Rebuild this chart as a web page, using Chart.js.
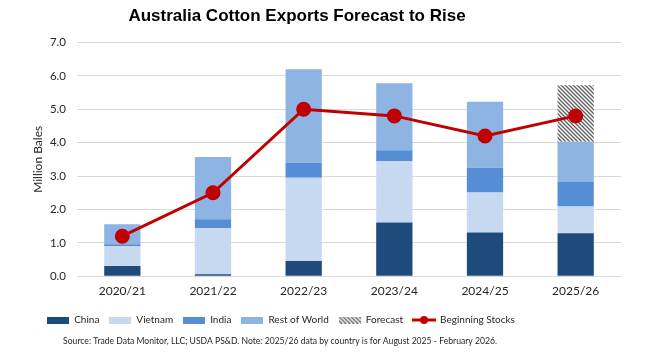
<!DOCTYPE html>
<html>
<head>
<meta charset="utf-8">
<script src="https://cdn.jsdelivr.net/npm/chart.js@4.4.1/dist/chart.umd.min.js"></script>
<style>
  html, body { margin: 0; padding: 0; background: #fff; }
</style>
</head>
<body>
<canvas id="cottonChart" width="660" height="360"></canvas>
<script>
const seasons = ['2020/21', '2021/22', '2022/23', '2023/24', '2024/25', '2025/26'];
const china = [0.31, 0.06, 0.46, 1.61, 1.31, 1.29];
const vietnam = [0.60, 1.38, 2.49, 1.84, 1.20, 0.80];
const india = [0.05, 0.27, 0.45, 0.32, 0.74, 0.75];
const restOfWorld = [0.60, 1.86, 2.80, 2.01, 1.97, 1.19];
const forecast = [null, null, null, null, null, 1.69];
const beginningStocks = [1.2, 2.5, 5.0, 4.8, 4.2, 4.8];

const TITLE = 'Australia Cotton Exports Forecast to Rise';
const SOURCE = 'Source: Trade Data Monitor, LLC; USDA PS&D. Note: 2025/26 data by country is for August 2025 - February 2026.';

const colors = {
    china: '#1F4A7C',
    vietnam: '#C6D9F1',
    india: '#558ED5',
    row: '#8EB4E3',
    stocks: '#C00000'
};

function hatchPattern() {
    const c = document.createElement('canvas');
    c.width = c.height = 4;
    const g = c.getContext('2d');
    g.fillStyle = '#fff';
    g.fillRect(0, 0, 4, 4);
    g.strokeStyle = '#5e5e5e';
    g.lineWidth = 1.3;
    g.beginPath();
    g.moveTo(-1, -1); g.lineTo(5, 5);
    g.moveTo(-1, 3); g.lineTo(1, 5);
    g.moveTo(3, -1); g.lineTo(5, 1);
    g.stroke();
    return g.createPattern(c, 'repeat');
}

function swatch(fill) {
    const c = document.createElement('canvas');
    c.width = 22; c.height = 7;
    const g = c.getContext('2d');
    g.fillStyle = fill;
    g.fillRect(0, 0, 22, 7);
    return c;
}

function lineSwatch() {
    const c = document.createElement('canvas');
    c.width = 24; c.height = 10;
    const g = c.getContext('2d');
    g.strokeStyle = colors.stocks;
    g.lineWidth = 3;
    g.beginPath(); g.moveTo(0, 5); g.lineTo(24, 5); g.stroke();
    g.fillStyle = colors.stocks;
    g.beginPath(); g.arc(12, 5, 4, 0, Math.PI * 2); g.fill();
    return c;
}

const hatch = hatchPattern();

// move title / legend / source note to where the original puts them
const nudge = {
    id: 'nudge',
    afterLayout(chart) {
        const move = (box, cx, top) => {
            if (!box) return;
            const w = box.right - box.left;
            const h = box.bottom - box.top;
            box.left = cx - w / 2; box.right = cx + w / 2;
            box.top = top; box.bottom = top + h;
        };
        move(chart.titleBlock, 297, 0);
        move(chart.legend, 281, 305);
        const note = chart.boxes.find(b => b !== chart.titleBlock && b.options && b.options.text === SOURCE);
        move(note, 280, 334);
    }
};

const ctx = document.getElementById('cottonChart');
const chart = new Chart(ctx, {
    type: 'bar',
    data: {
        labels: seasons,
        datasets: [
            {label: 'Beginning Stocks', type: 'line', data: beginningStocks, stack: 'stocks',
                borderColor: colors.stocks, backgroundColor: colors.stocks, borderWidth: 3,
                pointRadius: 6, pointHoverRadius: 6, tension: 0, order: 0},
            {label: 'China', data: china, backgroundColor: colors.china, stack: 'exports', order: 1},
            {label: 'Vietnam', data: vietnam, backgroundColor: colors.vietnam, stack: 'exports', order: 1},
            {label: 'India', data: india, backgroundColor: colors.india, stack: 'exports', order: 1},
            {label: 'Rest of World', data: restOfWorld, backgroundColor: colors.row, stack: 'exports', order: 1},
            {label: 'Forecast', data: forecast, backgroundColor: hatch, stack: 'exports', order: 1}
        ]
    },
    options: {
        responsive: false,
        animation: false,
        devicePixelRatio: 1,
        barPercentage: 0.5,
        categoryPercentage: 0.8,
        layout: {padding: {left: 25, right: 39, top: 0, bottom: 9}},
        scales: {
            x: {
                stacked: true,
                grid: {display: false, drawTicks: false},
                border: {color: '#D9D9D9', width: 1},
                ticks: {padding: 8, color: '#262626', font: {family: 'Lato', size: 12}}
            },
            y: {
                stacked: true,
                min: 0, max: 7,
                afterFit: s => { s.width = 52; },
                grid: {color: '#D9D9D9', lineWidth: 1, drawTicks: false},
                border: {display: false},
                ticks: {stepSize: 1, padding: 11, color: '#262626', font: {family: 'Lato', size: 11.5},
                    callback: v => v.toFixed(1)},
                title: {display: true, text: 'Million Bales', color: '#262626',
                    font: {family: 'Lato', size: 12}, padding: {top: 6, bottom: 0}}
            }
        },
        plugins: {
            tooltip: {enabled: false},
            title: {display: true, text: TITLE, color: '#000',
                font: {family: 'Liberation Sans', size: 17, weight: 'bold'},
                padding: {top: 6, bottom: 16}},
            subtitle: {display: true, text: SOURCE, position: 'bottom', color: '#262626',
                font: {family: 'Lato', size: 8.6}, padding: {top: 2, bottom: 2}},
            legend: {
                position: 'bottom',
                labels: {
                    usePointStyle: true,
                    pointStyleWidth: 22,
                    padding: 10,
                    color: '#262626',
                    font: {family: 'Lato', size: 10},
                    generateLabels: () => [
                        {text: 'China', pointStyle: swatch(colors.china)},
                        {text: 'Vietnam', pointStyle: swatch(colors.vietnam)},
                        {text: 'India', pointStyle: swatch(colors.india)},
                        {text: 'Rest of World', pointStyle: swatch(colors.row)},
                        {text: 'Forecast', pointStyle: swatch(hatch)},
                        {text: 'Beginning Stocks', pointStyle: lineSwatch()}
                    ].map(l => Object.assign(l, {fontColor: '#262626', lineWidth: 0, strokeStyle: 'transparent', fillStyle: 'transparent'}))
                }
            }
        }
    },
    plugins: [nudge]
});
</script>
</body>
</html>
